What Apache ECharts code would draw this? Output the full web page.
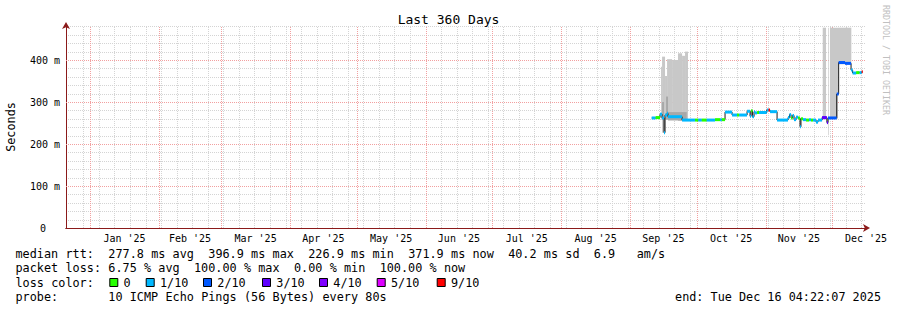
<!DOCTYPE html>
<html><head><meta charset="utf-8">
<script src="https://cdn.jsdelivr.net/npm/echarts@6/dist/echarts.min.js"></script>
<style>html,body{margin:0;padding:0;background:#fff}#c{width:897px;height:310px}</style>
</head><body><div id="c"></div>
<script>
// ---------------- data ----------------
const titleText = 'Last 360 Days';
const startTime = '2024-12-21T04:22:07Z';
const endTime = '2025-12-16T04:22:07Z';
const monthLabels = ["Jan '25","Feb '25","Mar '25","Apr '25","May '25","Jun '25","Jul '25","Aug '25","Sep '25","Oct '25","Nov '25","Dec '25"];
const yMajorTicks = [0, 100, 200, 300, 400];
const yMinorStep = 20;
const yMax = 481;

// median RTT (ms) steps: value holds until next time; loss = lost pings of 10
const medianTime = [
 '2025-09-10T18:00Z','2025-09-12T12:00Z','2025-09-14T12:00Z','2025-09-15T10:00Z','2025-09-16T07:00Z',
 '2025-09-16T18:00Z','2025-09-17T16:00Z','2025-09-18T02:00Z','2025-09-24T10:00Z','2025-09-30T06:00Z',
 '2025-10-01T17:00Z','2025-10-03T07:00Z','2025-10-05T12:00Z','2025-10-09T06:00Z','2025-10-11T12:00Z',
 '2025-10-12T07:00Z','2025-10-13T18:00Z','2025-10-16T22:00Z','2025-10-19T04:00Z','2025-10-20T03:00Z',
 '2025-10-23T16:00Z','2025-10-25T00:00Z','2025-10-25T11:00Z','2025-10-26T02:00Z','2025-10-26T19:00Z',
 '2025-10-27T06:00Z','2025-10-28T04:00Z','2025-10-29T01:00Z','2025-11-01T13:00Z','2025-11-02T08:00Z',
 '2025-11-03T00:00Z','2025-11-06T04:00Z','2025-11-11T02:00Z','2025-11-11T18:00Z','2025-11-12T11:00Z',
 '2025-11-13T03:00Z','2025-11-13T19:00Z','2025-11-14T17:00Z','2025-11-15T15:00Z','2025-11-16T12:00Z',
 '2025-11-16T22:00Z','2025-11-17T20:00Z','2025-11-19T05:00Z','2025-11-20T13:00Z','2025-11-21T10:00Z',
 '2025-11-22T08:00Z','2025-11-23T17:00Z','2025-11-24T14:00Z','2025-11-26T10:00Z','2025-11-28T14:00Z',
 '2025-11-29T02:00Z','2025-12-03T00:00Z','2025-12-03T21:00Z','2025-12-06T18:00Z','2025-12-09T11:00Z',
 '2025-12-10T04:00Z','2025-12-11T18:00Z','2025-12-13T08:00Z','2025-12-14T06:00Z'
];
const medianValue = [
 262,263,271,262,227, 269,273,265,257,257, 257,257,257,258,258, 258,276,269,269,269,
 278,266,279,265,277, 274,275,275,281,281, 277,257,263,270,262, 268,258,264,262,241,
 260,258,257,258,257, 257,252,257,263,251, 262,319,394,392,376, 369,370,370,372
];
const medianLoss = [
 1,0,1,1,1, 1,1,1,1,0, 1,0,1,0,1, 0,1,1,0,1,
 1,1,0,1,1, 1,0,1,1,9, 1,1,1,1,0, 1,1,1,0,1,
 0,1,0,1,0, 1,1,1,3,3, 2,2,2,2,1, 1,0,1,10
];
const medianEndTime = '2025-12-14T16:00Z';

// smoke: spread of the individual pings (ms)
const smokeStart = ['2025-09-14T23:00Z','2025-09-15T10:00Z','2025-09-16T18:00Z','2025-09-17T16:00Z','2025-09-19T22:00Z','2025-09-22T14:00Z','2025-09-24T10:00Z','2025-09-25T18:00Z','2025-11-26T17:00Z','2025-11-29T05:00Z','2025-11-29T23:00Z','2025-12-03T14:00Z'];
const smokeEnd   = ['2025-09-15T10:00Z','2025-09-16T18:00Z','2025-09-17T16:00Z','2025-09-19T22:00Z','2025-09-22T14:00Z','2025-09-24T10:00Z','2025-09-25T18:00Z','2025-09-27T02:00Z','2025-11-28T05:00Z','2025-11-29T12:00Z','2025-12-03T14:00Z','2025-12-09T14:00Z'];
const smokeLow   = [258,227,258,258,258,255,255,255,258,221,260,390];
const smokeHigh  = [384,408,362,402,400,416,410,420,477,477,477,477];
// denser (inner) smoke
const denseStart = ['2025-09-15T10:00Z','2025-09-17T05:00Z','2025-09-18T02:00Z'];
const denseEnd   = ['2025-09-16T07:00Z','2025-09-18T02:00Z','2025-09-26T12:00Z'];
const denseLow   = [258,258,256];
const denseHigh  = [300,313,276];

const lossLevels = [0,1,2,3,4,5,9];
const lossLabels = ['0','1/10','2/10','3/10','4/10','5/10','9/10'];
const lossColors = ['#26ff00','#00b8ff','#0059ff','#5e00ff','#7e00ff','#dd00ff','#ff0000'];

const statsRtt  = 'median rtt:  277.8 ms avg  396.9 ms max  226.9 ms min  371.9 ms now  40.2 ms sd  6.9   am/s';
const statsLoss = 'packet loss: 6.75 % avg  100.00 % max  0.00 % min  100.00 % now';
const lossTitle = 'loss color:';
const probeText = 'probe:       10 ICMP Echo Pings (56 Bytes) every 80s';
const endText   = 'end: Tue Dec 16 04:22:07 2025';
const watermark = 'RRDTOOL / TOBI OETIKER';

// ---------------- build ----------------
const FONT = '"DejaVu Sans Mono", monospace';
const t = s => Date.parse(s);
const DAY = 86400000;
const T0 = t(startTime), T1 = t(endTime);

const weekTicks = [];
for (let d = Date.UTC(2024, 11, 22); d <= T1; d += 7 * DAY) if (d > T0 + 2 * DAY) weekTicks.push(d);
const monthStarts = monthLabels.map((_, i) => Date.UTC(2025, i, 1));
const monthMids = monthLabels.map((_, i) => Math.min((Date.UTC(2025, i, 1) + Date.UTC(2025, i + 1, 1)) / 2, T1));
const yMinorTicks = [];
for (let v = yMinorStep; v <= yMax; v += yMinorStep) if (yMajorTicks.indexOf(v) < 0) yMinorTicks.push(v);

function lossColor(l) {
  let c = lossColors[0];
  lossLevels.forEach((lv, i) => { if (l >= lv) c = lossColors[i]; });
  return c;
}

const medianT = medianTime.map(t);
const medianSeg = medianT.map((s, i) => [s, i + 1 < medianT.length ? medianT[i + 1] : t(medianEndTime), medianValue[i], medianLoss[i]]);
const medianLine = medianT.map((s, i) => [s, medianValue[i]]);
medianLine.push([t(medianEndTime), medianValue[medianValue.length - 1]]);

function rectSeries(starts, ends, lows, highs, color, z) {
  return {
    type: 'custom', xAxisIndex: 0, yAxisIndex: 0, z: z, silent: true,
    data: starts.map((s, i) => [t(s), t(ends[i]), lows[i], highs[i]]),
    encode: { x: [0, 1], y: [2, 3] },
    renderItem: (p, api) => {
      const a = api.coord([api.value(0), api.value(3)]);
      const b = api.coord([api.value(1), api.value(2)]);
      return { type: 'rect', shape: { x: a[0], y: a[1], width: b[0] - a[0], height: b[1] - a[1] }, style: { fill: color } };
    }
  };
}
// grid lines drawn through the axis scales
function vGrid(values, color, z) {
  return { type: 'custom', xAxisIndex: 0, yAxisIndex: 0, z: z, silent: true, clip: false,
    data: values.map(v => [v]), encode: { x: 0 },
    renderItem: (p, api) => {
      const a = api.coord([api.value(0), 0]);
      const b = api.coord([api.value(0), yMax]);
      const x = Math.round(a[0]) + 0.5;
      return { type: 'line', shape: { x1: x, y1: a[1], x2: x, y2: b[1] }, style: { stroke: color, lineWidth: 1, lineDash: [1, 1] } };
    } };
}
function hGrid(values, color, z) {
  return { type: 'custom', xAxisIndex: 0, yAxisIndex: 0, z: z, silent: true, clip: false,
    data: values.map(v => [T0, v]), encode: { x: 0, y: 1 },
    renderItem: (p, api) => {
      const a = api.coord([T0, api.value(1)]);
      const b = api.coord([T1, api.value(1)]);
      const y = Math.round(a[1]) + 0.5;
      return { type: 'line', shape: { x1: a[0], y1: y, x2: b[0], y2: y }, style: { stroke: color, lineWidth: 1, lineDash: [1, 1] } };
    } };
}

// legend / text graphics
const ADV = 7.14, X0 = 15.5, FS = 11.8;
const graphics = [];
function row(str, y) {
  const re = /\S+/g; let m;
  while ((m = re.exec(str))) {
    graphics.push({ type: 'text', x: X0 + m.index * ADV, y: y, silent: true,
      style: { text: m[0], font: FS + 'px ' + FONT, fill: '#000', align: 'left', verticalAlign: 'middle' } });
  }
}
const rowY = [254, 268.3, 282.5, 296.7];
row(statsRtt, rowY[0]);
row(statsLoss, rowY[1]);
row(lossTitle, rowY[2]);
row(probeText, rowY[3]);
const boxX = [109.3, 145.7, 203, 262, 319, 376.7, 436.7];
lossLabels.forEach((lab, i) => {
  graphics.push({ type: 'rect', silent: true, shape: { x: boxX[i] + 0.5, y: 278.5, width: 8, height: 8 },
    style: { fill: lossColors[i], stroke: '#000', lineWidth: 1 } });
  graphics.push({ type: 'text', x: boxX[i] + 14.3, y: rowY[2], silent: true,
    style: { text: lab, font: FS + 'px ' + FONT, fill: '#000', align: 'left', verticalAlign: 'middle' } });
});
graphics.push({ type: 'text', x: 881, y: rowY[3], silent: true,
  style: { text: endText, font: FS + 'px ' + FONT, fill: '#000', align: 'right', verticalAlign: 'middle' } });
graphics.push({ type: 'text', x: 886, y: 5, rotation: -Math.PI / 2, silent: true,
  style: { text: watermark, font: '8.3px ' + FONT, fill: '#c0c0c0', align: 'left', verticalAlign: 'middle' } });

const MINOR = '#d4d4d4', MAJOR = '#f2a0a0';
const chart = echarts.init(document.getElementById('c'), null, { renderer: 'svg', width: 897, height: 310 });
chart.setOption({
  animation: false,
  backgroundColor: '#ffffff',
  title: { text: titleText, left: 'center', top: 8,
    textStyle: { fontFamily: FONT, fontSize: 13, fontWeight: 'normal', color: '#000' } },
  grid: { left: 66, top: 26, width: 800, height: 202, containLabel: false, outerBoundsMode: 'none' },
  xAxis: [
    { type: 'value', min: T0, max: T1, position: 'bottom',
      axisLine: { show: true, onZero: false, lineStyle: { color: '#202020', width: 1 } },
      axisTick: { show: false },
      axisLabel: { show: true, customValues: monthMids, margin: 5, fontFamily: FONT, fontSize: 10, color: '#000',
        formatter: v => monthLabels[new Date(v).getUTCMonth()] },
      splitLine: { show: false } },
    { type: 'value', min: T0, max: T1, position: 'bottom',
      axisLine: { show: true, onZero: false, lineStyle: { color: '#8b1a1a', width: 1 }, symbol: ['none', 'arrow'], symbolSize: [6, 7], symbolOffset: [0, 4] },
      axisTick: { show: false }, axisLabel: { show: false }, splitLine: { show: false } }
  ],
  yAxis: [
    { type: 'value', min: 0, max: yMax, position: 'left',
      axisLine: { show: true, onZero: false, lineStyle: { color: '#202020', width: 1 } },
      axisTick: { show: false },
      axisLabel: { show: true, customValues: yMajorTicks, margin: 6, fontFamily: FONT, fontSize: 10, color: '#000',
        formatter: v => v === 0 ? '{z|0}' : v + ' m',
        rich: { z: { fontFamily: FONT, fontSize: 10, color: '#000', padding: [0, 14, 0, 0] } } },
      splitLine: { show: false },
      name: 'Seconds', nameLocation: 'middle', nameRotate: 90, nameGap: 49,
      nameTextStyle: { fontFamily: FONT, fontSize: 11.8, color: '#000' } },
    { type: 'value', min: 0, max: yMax, position: 'left',
      axisLine: { show: true, onZero: false, lineStyle: { color: '#8b1a1a', width: 1 }, symbol: ['none', 'arrow'], symbolSize: [6, 7], symbolOffset: [0, 4] },
      axisTick: { show: false }, axisLabel: { show: false }, splitLine: { show: false } }
  ],
  series: [
    vGrid(weekTicks, MINOR, 0),
    hGrid(yMinorTicks, MINOR, 0),
    vGrid(monthStarts, MAJOR, 1),
    hGrid(yMajorTicks.filter(v => v > 0), MAJOR, 1),
    rectSeries(smokeStart, smokeEnd, smokeLow, smokeHigh, '#c8c8c8', 2),
    rectSeries(denseStart, denseEnd, denseLow, denseHigh, '#a8a8a8', 3),
    { type: 'line', xAxisIndex: 0, yAxisIndex: 0, z: 4, step: 'end', showSymbol: false, silent: true,
      data: medianLine, lineStyle: { color: '#1a1a1a', width: 1 } },
    { type: 'custom', xAxisIndex: 0, yAxisIndex: 0, z: 5, silent: true,
      data: medianSeg, encode: { x: [0, 1], y: 2 },
      renderItem: (p, api) => {
        const a = api.coord([api.value(0), api.value(2)]);
        const b = api.coord([api.value(1), api.value(2)]);
        return { type: 'rect', shape: { x: a[0], y: a[1] - 1.5, width: Math.max(b[0] - a[0], 1), height: 3 },
          style: { fill: lossColor(api.value(3)) } };
      } }
  ],
  graphic: graphics
});
</script></body></html>
